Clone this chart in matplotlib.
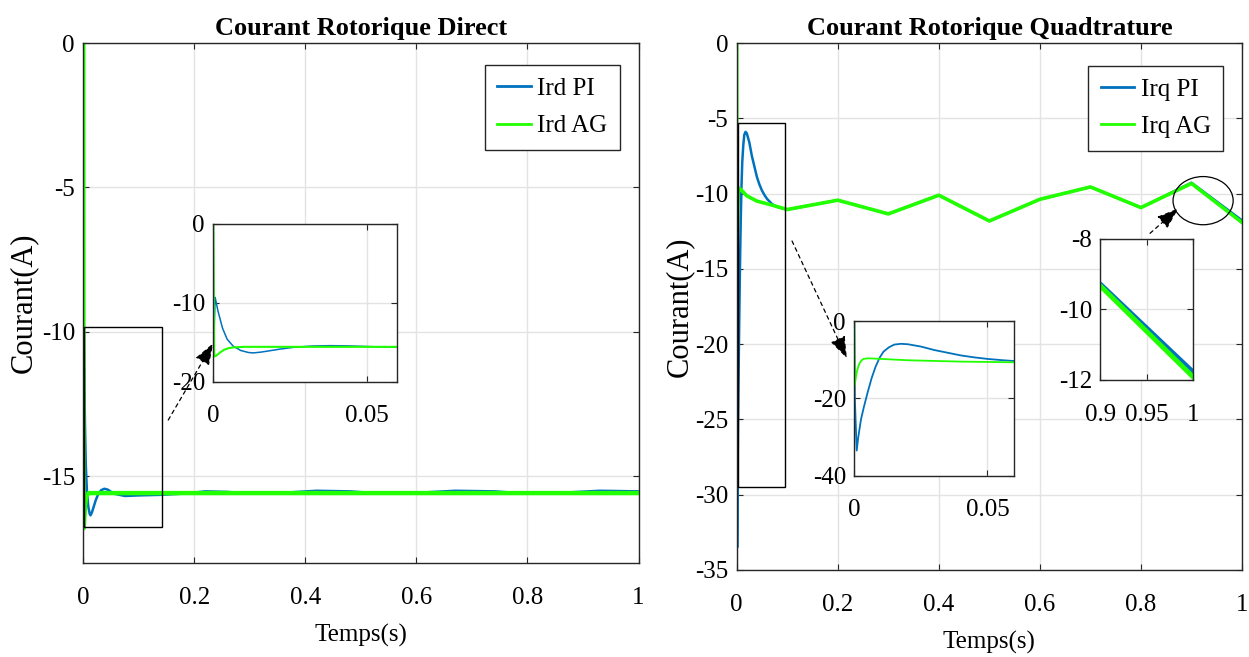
import matplotlib
matplotlib.use("Agg")
import matplotlib.pyplot as plt
from matplotlib.patches import Rectangle, Ellipse

plt.rcParams['font.family'] = ['Liberation Serif', 'DejaVu Serif']
plt.rcParams['axes.unicode_minus'] = False

# ---------------- data ----------------
# direct-axis rotor current (A)
t_ird_pi = [0, 0.0001, 0.0006, 0.0015, 0.003, 0.0045, 0.0065, 0.009, 0.0115, 0.013,
            0.0155, 0.018, 0.022, 0.026, 0.032, 0.038, 0.044, 0.055, 0.075, 0.1,
            0.14, 0.18, 0.22, 0.26, 0.3, 0.35, 0.42, 0.48, 0.54, 0.6, 0.67, 0.74,
            0.8, 0.87, 0.93, 1.0]
ird_pi = [0, -16.0, -9.3, -11.0, -13.2, -14.6, -15.5, -16.05, -16.3, -16.35,
          -16.25, -16.1, -15.85, -15.65, -15.48, -15.43, -15.46, -15.6, -15.68, -15.66,
          -15.64, -15.6, -15.52, -15.54, -15.6, -15.58, -15.5, -15.52, -15.6, -15.57,
          -15.5, -15.52, -15.6, -15.56, -15.5, -15.52]
t_ird_ag = [0, 0.0003, 0.001, 0.002, 0.0035, 0.005, 0.0065, 0.01, 1.0]
ird_ag = [0, -16.8, -16.7, -16.35, -15.95, -15.75, -15.65, -15.58, -15.58]

# quadrature-axis rotor current (A)
t_irq_pi = [0, 0.0002, 0.0009, 0.0015, 0.0025, 0.0035, 0.005, 0.0065, 0.008, 0.0095,
            0.011, 0.013, 0.015, 0.0175, 0.02, 0.025, 0.03, 0.035, 0.04, 0.045,
            0.05, 0.055, 0.06, 0.07, 0.08, 0.09, 0.1, 0.2, 0.3, 0.4,
            0.5, 0.6, 0.7, 0.8, 0.9, 1.0]
irq_pi = [0, -20.0, -33.5, -30.0, -25.5, -22.5, -18.5, -14.8, -11.8, -9.5,
          -7.9, -6.8, -6.1, -5.9, -6.0, -6.6, -7.5, -8.2, -8.9, -9.4,
          -9.8, -10.1, -10.35, -10.7, -10.88, -10.98, -11.06, -10.44, -11.35, -10.11,
          -11.82, -10.38, -9.56, -10.93, -9.28, -11.78]
t_irq_ag = [0, 0.0002, 0.0006, 0.001, 0.0015, 0.002, 0.0027, 0.0035, 0.005, 0.007,
            0.01, 0.02, 0.04, 0.066, 0.1, 0.2, 0.3, 0.4, 0.5, 0.6, 0.7, 0.8, 0.9, 1.0]
irq_ag = [0, -16.5, -14.5, -13.0, -11.8, -10.9, -10.2, -9.8, -9.65, -9.7,
          -9.8, -10.15, -10.5, -10.73, -11.06, -10.44, -11.35, -10.11, -11.82, -10.38,
          -9.56, -10.93, -9.33, -11.92]

labels_d = ['Ird PI', 'Ird AG']
labels_q = ['Irq PI', 'Irq AG']
titles = ['Courant Rotorique Direct', 'Courant Rotorique Quadtrature']
xlabel = 'Temps(s)'
ylabel = 'Courant(A)'

time_ticks = [0, 0.2, 0.4, 0.6, 0.8, 1]
time_ticklabels = ['0', '0.2', '0.4', '0.6', '0.8', '1']
ird_ticks = [0, -5, -10, -15]
irq_ticks = [0, -5, -10, -15, -20, -25, -30, -35]
zoom_t_ticks = [0, 0.05]
zoom_t_ticklabels = ['0', '0.05']
zoom_ird_ticks = [0, -10, -20]
zoom_irq_ticks = [0, -20, -40]
end_t_ticks = [0.9, 0.95, 1]
end_t_ticklabels = ['0.9', '0.95', '1']
end_irq_ticks = [-8, -10, -12]

# ---------------- style ----------------
BLUE = '#0072BD'
GREEN = '#22FF00'
AX_COL = '#262626'
GRID_COL = '#e3e3e3'
FS = 18

W, H = 1249, 657
fig = plt.figure(figsize=(W / 100, H / 100), dpi=100)


def px_rect(x0, y0, x1, y1):
    """Axes rectangle given in pixel coordinates measured from top-left."""
    return [x0 / W, 1 - y1 / H, (x1 - x0) / W, (y1 - y0) / H]


def style(ax, xticks, xtl, yticks, xpad=17):
    ax.set_xticks(xticks)
    ax.set_xticklabels(xtl)
    ax.set_yticks(yticks)
    ax.set_yticklabels([str(v) for v in yticks])
    ax.tick_params(direction='in', top=True, right=True, length=4, width=0.8,
                   colors=AX_COL, labelcolor='black', labelsize=FS)
    ax.tick_params(axis='x', pad=xpad)
    ax.tick_params(axis='y', pad=6)
    ax.grid(True, color=GRID_COL, lw=1.0)
    ax.set_axisbelow(True)
    for s in ax.spines.values():
        s.set_color(AX_COL)
        s.set_linewidth(1.0)


def dashed_arrow(ax, start, tip):
    ax.annotate('', xy=tip, xytext=start, xycoords='data', textcoords='data',
                annotation_clip=False,
                arrowprops=dict(arrowstyle='-|>,head_length=0.9,head_width=0.32',
                                linestyle=(0, (3, 3)), lw=0.9, color='black',
                                mutation_scale=15, shrinkA=0, shrinkB=0))


def legend(ax, corner_px):
    leg = ax.legend(loc='upper right',
                    bbox_to_anchor=(corner_px[0] / W, 1 - corner_px[1] / H),
                    bbox_transform=fig.transFigure, fontsize=FS, frameon=True,
                    fancybox=False, framealpha=1, edgecolor=AX_COL, borderpad=0.5,
                    handlelength=1.35, handletextpad=0.25, labelspacing=0.6,
                    borderaxespad=0)
    leg.get_frame().set_linewidth(1.0)
    for ln in leg.get_lines():
        ln.set_linewidth(2.0)


# ---------------- left: direct current ----------------
axL = fig.add_axes(px_rect(83.3, 43, 638.5, 563))
axL.plot(t_ird_pi, ird_pi, color=BLUE, lw=1.8, label=labels_d[0])
axL.plot(t_ird_ag, ird_ag, color=GREEN, lw=3.2, label=labels_d[1])
axL.set_xlim(0, 1)
axL.set_ylim(-18, 0)
style(axL, time_ticks, time_ticklabels, ird_ticks)
axL.set_title(titles[0], fontsize=19, fontweight='bold', pad=6)
axL.set_xlabel(xlabel, fontsize=FS, labelpad=11)
axL.set_ylabel(ylabel, fontsize=22, labelpad=3)
axL.add_patch(Rectangle((0.001, -16.75), 0.14, 6.93, fill=False, ec='black', lw=1.0, zorder=5))
dashed_arrow(axL, (0.153, -13.05), (0.234, -10.39))
legend(axL, (620, 65))

insL = fig.add_axes(px_rect(213.3, 224, 397.3, 381.7))
insL.plot(t_ird_pi, ird_pi, color=BLUE, lw=1.1)
insL.plot(t_ird_ag, ird_ag, color=GREEN, lw=1.5)
insL.set_xlim(0, 0.06)
insL.set_ylim(-20, 0)
style(insL, zoom_t_ticks, zoom_t_ticklabels, zoom_ird_ticks)

# ---------------- right: quadrature current ----------------
axR = fig.add_axes(px_rect(736.7, 43, 1242, 570))
axR.plot(t_irq_pi, irq_pi, color=BLUE, lw=1.8, label=labels_q[0])
axR.plot(t_irq_ag, irq_ag, color=GREEN, lw=2.6, label=labels_q[1])
axR.set_xlim(0, 1)
axR.set_ylim(-35, 0)
style(axR, time_ticks, time_ticklabels, irq_ticks)
axR.set_title(titles[1], fontsize=19, fontweight='bold', pad=6)
axR.set_xlabel(xlabel, fontsize=FS, labelpad=11)
axR.set_ylabel(ylabel, fontsize=22, labelpad=1)
axR.add_patch(Rectangle((0.002, -29.5), 0.093, 24.17, fill=False, ec='black', lw=1.0, zorder=5))
axR.add_patch(Ellipse((0.923, -10.47), 0.119, 3.2, fill=False, ec='black', lw=0.9, zorder=5))
dashed_arrow(axR, (0.1095, -13.15), (0.218, -20.94))
dashed_arrow(axR, (0.818, -12.64), (0.874, -10.98))
legend(axR, (1223.3, 65.7))

insR1 = fig.add_axes(px_rect(854.3, 321, 1014, 475.7))
insR1.plot(t_irq_pi, irq_pi, color=BLUE, lw=1.3)
insR1.plot(t_irq_ag, irq_ag, color=GREEN, lw=1.3)
insR1.set_xlim(0, 0.06)
insR1.set_ylim(-40, 0)
style(insR1, zoom_t_ticks, zoom_t_ticklabels, zoom_irq_ticks)

insR2 = fig.add_axes(px_rect(1100.3, 239, 1193.3, 380))
insR2.plot(t_irq_pi, irq_pi, color=BLUE, lw=3.5)
insR2.plot(t_irq_ag, irq_ag, color=GREEN, lw=3.5)
insR2.set_xlim(0.9, 1)
insR2.set_ylim(-12, -8)
style(insR2, end_t_ticks, end_t_ticklabels, end_irq_ticks)

fig.savefig('out.png', dpi=100)
